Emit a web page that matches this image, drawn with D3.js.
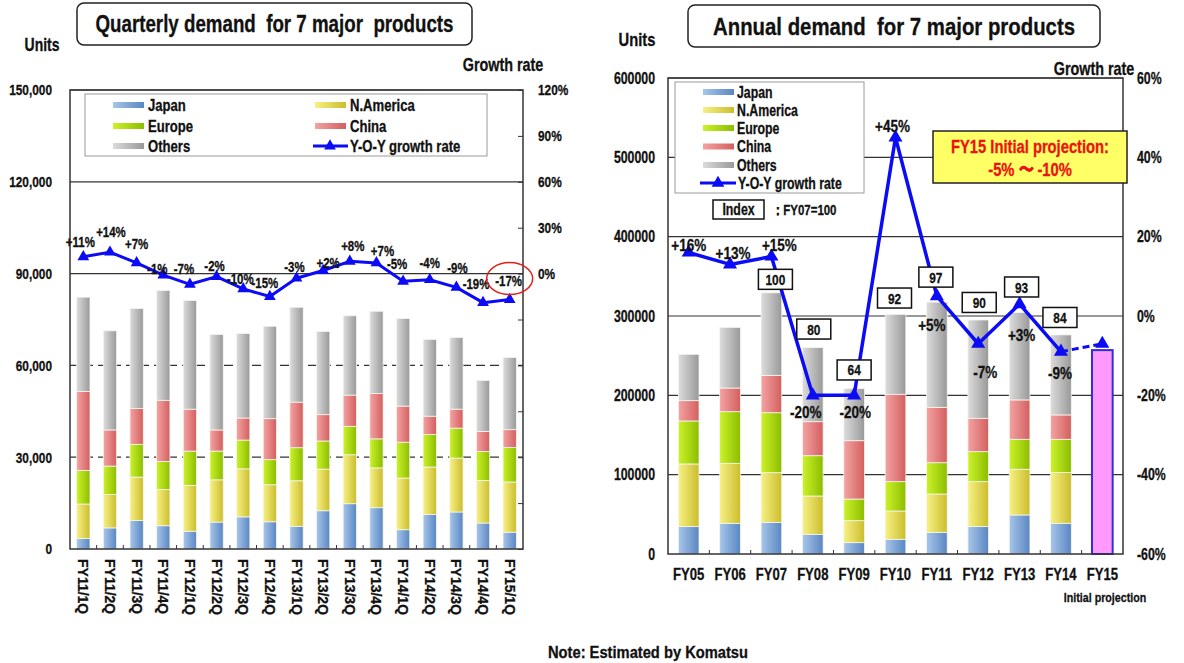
<!DOCTYPE html>
<html>
<head>
<meta charset="utf-8">
<script src="https://cdn.jsdelivr.net/npm/d3@7"></script>
<style>
  html, body { margin: 0; padding: 0; background: #fff; }
  svg { display: block; }
  text { font-family: "Liberation Sans", Arial, sans-serif; font-weight: bold; fill: #111;
         stroke: #111; stroke-width: 0.3px; white-space: pre; }
  text.red { fill: #ee1111; stroke: #ee1111; }
</style>
</head>
<body>
<svg id="chart" width="1184" height="663"></svg>
<script>
// ---------- Quarterly demand (units) ----------
const quarters = ["FY11/1Q","FY11/2Q","FY11/3Q","FY11/4Q","FY12/1Q","FY12/2Q","FY12/3Q","FY12/4Q",
                  "FY13/1Q","FY13/2Q","FY13/3Q","FY13/4Q","FY14/1Q","FY14/2Q","FY14/3Q","FY14/4Q","FY15/1Q"];
const qJapan    = [3400, 6900, 9300, 7600, 5800, 8800, 10500, 8900, 7400, 12500, 14800, 13500, 6300, 11300, 12100, 8500, 5500];
const qNAmerica = [11300, 10900, 14200, 11800, 15000, 13800, 15700, 12100, 14900, 13600, 16000, 13000, 16900, 15500, 17600, 13900, 16400];
const qEurope   = [11000, 9300, 10700, 9200, 11200, 9400, 9400, 8200, 10800, 9200, 9300, 9500, 11700, 10600, 9800, 9500, 11300];
const qChina    = [25800, 11800, 11700, 20000, 13700, 6900, 7200, 13400, 14900, 8600, 10200, 14800, 11800, 6000, 6200, 6500, 5800];
const qOthers   = [30800, 32400, 32700, 35900, 35500, 31200, 27600, 30200, 31000, 27200, 25900, 26900, 28600, 25100, 23400, 16700, 23600];
const qGrowth   = [11, 14, 7, -1, -7, -2, -10, -15, -3, 2, 8, 7, -5, -4, -9, -19, -17];
const qUnitTicks   = [0, 30000, 60000, 90000, 120000, 150000];
const qGrowthTicks = [-180, -150, -120, -90, -60, -30, 0, 30, 60, 90, 120];

// ---------- Annual demand (units) ----------
const years     = ["FY05","FY06","FY07","FY08","FY09","FY10","FY11","FY12","FY13","FY14","FY15"];
const aJapan    = [34500, 38700, 39900, 24800, 14300, 18500, 27300, 34500, 49200, 38700];
const aNAmerica = [79000, 75600, 62600, 48300, 27700, 35700, 48300, 56700, 57600, 63900];
const aEurope   = [54200, 65100, 75600, 50800, 27300, 37000, 39500, 37800, 37800, 42000];
const aChina    = [25600, 29800, 47100, 42900, 73500, 110100, 69800, 42000, 49600, 30700];
const aOthers   = [58400, 76500, 104000, 93300, 65600, 100800, 132600, 124000, 110100, 100900];
const aGrowth   = [16, 13, 15, -20, -20, 45, 5, -7, 3, -9];
const aIndex    = [null, null, 100, 80, 64, 92, 97, 90, 93, 84];
const fy15Projection = 257000;
const fy15Growth = -7;
const aUnitTicks   = [0, 100000, 200000, 300000, 400000, 500000, 600000];
const aGrowthTicks = [-60, -40, -20, 0, 20, 40, 60];

const regions = ["Japan", "N.America", "Europe", "China", "Others"];

// ---------- look ----------
const SX = 0.78;   // condensed lettering
const BLUE = "#0b0bf5";
const AXIS = "#333";
const shades = {
  "Japan":     ["#a7c6ea", "#5a86c2"],
  "N.America": ["#f7f185", "#cbbd2c"],
  "Europe":    ["#ccf22a", "#8cbd00"],
  "China":     ["#f4a3a3", "#d35f5f"],
  "Others":    ["#dcdcdc", "#999999"]
};

const svg = d3.select("#chart");
const defs = svg.append("defs");
const gradId = r => "grad-" + r.replace(/\W/g, "");
regions.forEach(r => {
  const lg = defs.append("linearGradient").attr("id", gradId(r))
    .attr("x1", "0%").attr("x2", "100%").attr("y1", "0%").attr("y2", "0%");
  lg.append("stop").attr("offset", "0%").attr("stop-color", shades[r][0]);
  lg.append("stop").attr("offset", "100%").attr("stop-color", shades[r][1]);
});

function label(g, x, y, str, size, anchor = "middle", opts = {}) {
  const t = g.append("text")
    .attr("transform", `translate(${x},${y}) scale(${opts.sx ?? SX},1)`)
    .attr("text-anchor", anchor)
    .attr("dominant-baseline", "central")
    .style("font-size", size + "px")
    .text(str);
  if (opts.cls) t.attr("class", opts.cls);
  return t;
}

function titleBox(x, y, w, h, str, size, len) {
  svg.append("rect").attr("x", x).attr("y", y).attr("width", w).attr("height", h)
    .attr("rx", 7).attr("fill", "#fff").attr("stroke", "#222").attr("stroke-width", 1.5);
  svg.append("text").attr("x", x + w / 2).attr("y", y + h / 2)
    .attr("text-anchor", "middle").attr("dominant-baseline", "central")
    .attr("textLength", len).attr("lengthAdjust", "spacingAndGlyphs")
    .style("font-size", size + "px").text(str);
}

const tri = size => d3.symbol().type(d3.symbolTriangle).size(size)();

function stackRows(cats, arrs) {
  return cats.map((c, i) => {
    const row = { cat: c };
    regions.forEach((r, k) => row[r] = arrs[k][i]);
    return row;
  });
}

// ================= Quarterly chart =================
{
  const P = { x0: 70, x1: 523, y0: 90, y1: 549 };
  const x = d3.scaleBand().domain(quarters).range([P.x0, P.x1]).paddingInner(0.5).paddingOuter(0.25);
  const y = d3.scaleLinear().domain([0, 150000]).range([P.y1, P.y0]);
  const g = d3.scaleLinear().domain([-180, 120]).range([P.y1, P.y0]);
  const root = svg.append("g");

  titleBox(77, 3, 395, 42, "Quarterly demand  for 7 major  products", 23, 358);
  label(root, 42, 44, "Units", 17.9);
  label(root, 503, 64, "Growth rate", 18.4);

  // grid
  root.append("g").selectAll("line").data(qUnitTicks.filter(v => v > 0)).join("line")
    .attr("x1", P.x0).attr("x2", P.x1).attr("y1", d => y(d)).attr("y2", d => y(d))
    .attr("stroke", AXIS).attr("stroke-width", 1.2)
    .attr("stroke-dasharray", d => d <= 60000 ? "9,5" : null);

  // stacked bars
  const rows = stackRows(quarters, [qJapan, qNAmerica, qEurope, qChina, qOthers]);
  const series = d3.stack().keys(regions)(rows);
  root.append("g").selectAll("g").data(series).join("g")
    .attr("fill", s => `url(#${gradId(s.key)})`)
    .selectAll("rect").data(s => s).join("rect")
      .attr("x", d => x(d.data.cat)).attr("width", x.bandwidth())
      .attr("y", d => y(d[1])).attr("height", d => y(d[0]) - y(d[1]))
      .attr("stroke", "#f6f6ee").attr("stroke-width", 0.8);

  // frame + axes
  root.append("rect").attr("x", P.x0).attr("y", P.y0).attr("width", P.x1 - P.x0).attr("height", P.y1 - P.y0)
    .attr("fill", "none").attr("stroke", AXIS).attr("stroke-width", 1.5);

  const ax = root.append("g").attr("transform", `translate(${P.x0},0)`)
    .call(d3.axisLeft(y).tickValues(qUnitTicks).tickFormat(d3.format(",")).tickSize(0).tickPadding(18 / SX));
  ax.select(".domain").remove();
  ax.selectAll("text").attr("transform", `scale(${SX},1)`).style("font-size", "15.2px").attr("font-family", null);

  const ar = root.append("g").attr("transform", `translate(${P.x1},0)`)
    .call(d3.axisRight(g).tickValues(qGrowthTicks).tickFormat(d => d >= 0 ? d + "%" : "")
      .tickSize(-5).tickPadding(15 / SX));
  ar.select(".domain").remove();
  ar.selectAll("line").attr("stroke", AXIS);
  ar.selectAll("text").attr("transform", `scale(${SX},1)`).style("font-size", "15.2px").attr("font-family", null);

  // category ticks and rotated labels
  root.append("g").selectAll("line").data(quarters.slice(1)).join("line")
    .attr("x1", d => x(d) - x.step() * 0.25).attr("x2", d => x(d) - x.step() * 0.25)
    .attr("y1", P.y1).attr("y2", P.y1 - 4).attr("stroke", AXIS);
  const ab = root.append("g").attr("transform", `translate(0,${P.y1})`)
    .call(d3.axisBottom(x).tickSize(0).tickPadding(0));
  ab.select(".domain").remove();
  ab.selectAll("text").attr("transform", "translate(0,10) rotate(90)")
    .attr("y", 0).attr("dy", null).attr("x", 0)
    .attr("text-anchor", "start").attr("dominant-baseline", "central")
    .style("font-size", "14px").attr("font-family", null);

  // legend
  const lg = root.append("g");
  lg.append("rect").attr("x", 85).attr("y", 94).attr("width", 402).attr("height", 62)
    .attr("fill", "#fff").attr("stroke", "#9a9a9a");
  const cells = [
    ["Japan", 113, 105], ["N.America", 315, 105],
    ["Europe", 113, 126], ["China", 315, 126],
    ["Others", 113, 146]
  ];
  cells.forEach(([r, cx, cy]) => {
    lg.append("rect").attr("x", cx).attr("y", cy - 3).attr("width", 31).attr("height", 6)
      .attr("fill", `url(#${gradId(r)})`);
    label(lg, cx + 35, cy, r, 16.8, "start");
  });
  lg.append("line").attr("x1", 313).attr("x2", 348).attr("y1", 146).attr("y2", 146)
    .attr("stroke", BLUE).attr("stroke-width", 3);
  lg.append("path").attr("d", tri(60)).attr("transform", "translate(330,146)").attr("fill", BLUE);
  label(lg, 350, 146, "Y-O-Y growth rate", 16.8, "start");

  // growth line
  const line = d3.line().x((d, i) => x(quarters[i]) + x.bandwidth() / 2).y(d => g(d));
  root.append("path").datum(qGrowth).attr("d", line)
    .attr("fill", "none").attr("stroke", BLUE).attr("stroke-width", 3).attr("stroke-linejoin", "round");
  root.append("g").selectAll("path").data(qGrowth).join("path")
    .attr("d", tri(60)).attr("fill", BLUE)
    .attr("transform", (d, i) => `translate(${x(quarters[i]) + x.bandwidth() / 2},${g(d)})`);

  // value labels (placement nudges)
  const nudge = [[-3,-15],[1,-20],[0,-19],[-6,-6],[-6,-15],[-2,-11],[-3,-10],[-5,-14],[-2,-11],
                 [5,-8],[3,-15],[6,-12],[-6,-17],[0,-17],[1,-19],[-7,-19],[-1,-19]];
  const fmt = v => (v > 0 ? "+" : "") + v + "%";
  qGrowth.forEach((v, i) => {
    const cx = x(quarters[i]) + x.bandwidth() / 2 + nudge[i][0];
    const cy = g(v) + nudge[i][1];
    label(root, cx, cy, fmt(v), 14.7);
    if (i === qGrowth.length - 1) {
      root.append("ellipse").attr("cx", cx + 1).attr("cy", cy - 2).attr("rx", 23).attr("ry", 16)
        .attr("fill", "none").attr("stroke", "#e0201c").attr("stroke-width", 1.5);
    }
  });
}

// ================= Annual chart =================
{
  const P = { x0: 668, x1: 1123, y0: 78, y1: 554 };
  const x = d3.scaleBand().domain(years).range([P.x0, P.x1]).paddingInner(0.5).paddingOuter(0.25);
  const y = d3.scaleLinear().domain([0, 600000]).range([P.y1, P.y0]);
  const g = d3.scaleLinear().domain([-60, 60]).range([P.y1, P.y0]);
  const cx = c => x(c) + x.bandwidth() / 2;
  const root = svg.append("g");

  titleBox(688, 5, 412, 42, "Annual demand  for 7 major products", 24, 362);
  label(root, 637, 40, "Units", 18.9);
  label(root, 1094, 68, "Growth rate", 18.4);

  root.append("g").selectAll("line").data(aUnitTicks.filter(v => v > 0)).join("line")
    .attr("x1", P.x0).attr("x2", P.x1).attr("y1", d => y(d)).attr("y2", d => y(d))
    .attr("stroke", AXIS).attr("stroke-width", 1.2);

  const rows = stackRows(years.slice(0, aJapan.length), [aJapan, aNAmerica, aEurope, aChina, aOthers]);
  const series = d3.stack().keys(regions)(rows);
  root.append("g").selectAll("g").data(series).join("g")
    .attr("fill", s => `url(#${gradId(s.key)})`)
    .selectAll("rect").data(s => s).join("rect")
      .attr("x", d => x(d.data.cat)).attr("width", x.bandwidth())
      .attr("y", d => y(d[1])).attr("height", d => y(d[0]) - y(d[1]))
      .attr("stroke", "#f6f6ee").attr("stroke-width", 0.8);

  // FY15 projection bar
  root.append("rect").attr("x", x("FY15")).attr("width", x.bandwidth())
    .attr("y", y(fy15Projection)).attr("height", y(0) - y(fy15Projection))
    .attr("fill", "#ff99ff").attr("stroke", "#3030d0").attr("stroke-width", 2);

  root.append("rect").attr("x", P.x0).attr("y", P.y0).attr("width", P.x1 - P.x0).attr("height", P.y1 - P.y0)
    .attr("fill", "none").attr("stroke", AXIS).attr("stroke-width", 1.5);

  const ax = root.append("g").attr("transform", `translate(${P.x0},0)`)
    .call(d3.axisLeft(y).tickValues(aUnitTicks).tickFormat(d3.format("d")).tickSize(0).tickPadding(13 / SX));
  ax.select(".domain").remove();
  ax.selectAll("text").attr("transform", `scale(${SX},1)`).style("font-size", "15.8px").attr("font-family", null);

  const ar = root.append("g").attr("transform", `translate(${P.x1},0)`)
    .call(d3.axisRight(g).tickValues(aGrowthTicks).tickFormat(d => d + "%").tickSize(0).tickPadding(14 / SX));
  ar.select(".domain").remove();
  ar.selectAll("text").attr("transform", `scale(${SX},1)`).style("font-size", "15.8px").attr("font-family", null);

  root.append("g").selectAll("line").data(years.slice(1)).join("line")
    .attr("x1", d => x(d) - x.step() * 0.25).attr("x2", d => x(d) - x.step() * 0.25)
    .attr("y1", P.y1).attr("y2", P.y1 - 4).attr("stroke", AXIS);
  const ab = root.append("g").attr("transform", `translate(0,${P.y1})`)
    .call(d3.axisBottom(x).tickSize(0).tickPadding(0));
  ab.select(".domain").remove();
  ab.selectAll("text").attr("y", 0).attr("dy", null)
    .attr("transform", `translate(0,20) scale(${SX},1)`).attr("dominant-baseline", "central")
    .style("font-size", "16.8px").attr("font-family", null);
  label(root, 1105, 598, "Initial projection", 13.7);

  // legend
  const lg = root.append("g");
  lg.append("rect").attr("x", 675).attr("y", 82).attr("width", 189).attr("height", 111)
    .attr("fill", "#fff").attr("stroke", "#9a9a9a");
  const rowsY = [92, 110, 128, 146.5, 165];
  regions.forEach((r, k) => {
    lg.append("rect").attr("x", 703).attr("y", rowsY[k] - 3).attr("width", 31).attr("height", 6)
      .attr("fill", `url(#${gradId(r)})`);
    label(lg, 737, rowsY[k], r, 15.8, "start");
  });
  lg.append("line").attr("x1", 700).attr("x2", 736).attr("y1", 183).attr("y2", 183)
    .attr("stroke", BLUE).attr("stroke-width", 3);
  lg.append("path").attr("d", tri(70)).attr("transform", "translate(718,183)").attr("fill", BLUE);
  label(lg, 738, 183, "Y-O-Y growth rate", 15.8, "start");

  // index note
  root.append("rect").attr("x", 713).attr("y", 200).attr("width", 51).attr("height", 19)
    .attr("fill", "#fff").attr("stroke", "#111").attr("stroke-width", 1.5);
  label(root, 738.5, 209.5, "Index", 15.8);
  label(root, 772, 209.5, "\uff1aFY07=100", 14.7, "start");

  // growth line and projection leg
  const line = d3.line().x((d, i) => cx(years[i])).y(d => g(d));
  root.append("path").datum(aGrowth).attr("d", line)
    .attr("fill", "none").attr("stroke", BLUE).attr("stroke-width", 3.5).attr("stroke-linejoin", "round");
  const last = aGrowth.length - 1;
  root.append("line")
    .attr("x1", cx(years[last])).attr("y1", g(aGrowth[last]))
    .attr("x2", cx("FY15")).attr("y2", g(fy15Growth))
    .attr("stroke", BLUE).attr("stroke-width", 3).attr("stroke-dasharray", "7,4");
  root.append("g").selectAll("path").data(aGrowth.concat([fy15Growth])).join("path")
    .attr("d", tri(85)).attr("fill", BLUE)
    .attr("transform", (d, i) => `translate(${cx(years[i])},${g(d)})`);

  // index boxes
  const totals = rows.map(r => regions.reduce((s, k) => s + r[k], 0));
  const idxNudge = [null, null, [4,-13.5], [1,-18.6], [0,-18.7], [-1,-16.3], [-1,-25], [1,-17.5], [2,-25.6], [-1,-17.4]];
  aIndex.forEach((v, i) => {
    if (v == null) return;
    const bx = cx(years[i]) + idxNudge[i][0];
    const by = y(totals[i]) + idxNudge[i][1];
    root.append("rect").attr("x", bx - 17).attr("y", by - 10).attr("width", 34).attr("height", 20)
      .attr("fill", "#fff").attr("stroke", "#111").attr("stroke-width", 1.5);
    label(root, bx, by + 0.5, String(v), 15.2);
  });

  // growth labels
  const nudge = [[0,-8],[3,-12],[8,-12],[-7,17],[1,17],[-3,-12],[-5,29],[7,28],[2,31],[-1,21]];
  const fmt = v => (v > 0 ? "+" : "") + v + "%";
  aGrowth.forEach((v, i) => {
    label(root, cx(years[i]) + nudge[i][0], g(v) + nudge[i][1], fmt(v), 17.3);
  });

  // projection callout
  root.append("rect").attr("x", 933).attr("y", 131).attr("width", 194).attr("height", 52)
    .attr("fill", "#ffff66").attr("stroke", "#222").attr("stroke-width", 1.5);
  label(root, 1030, 147, "FY15 Initial projection:", 18.9, "middle", { cls: "red" });
  label(root, 1030, 170, "-5% \u301c -10%", 18.9, "middle", { cls: "red" });
}

// footnote
svg.append("text").attr("x", 648).attr("y", 652)
  .attr("text-anchor", "middle").attr("dominant-baseline", "central")
  .attr("textLength", 200).attr("lengthAdjust", "spacingAndGlyphs")
  .style("font-size", "16px").text("Note: Estimated by Komatsu");
</script>
</body>
</html>
